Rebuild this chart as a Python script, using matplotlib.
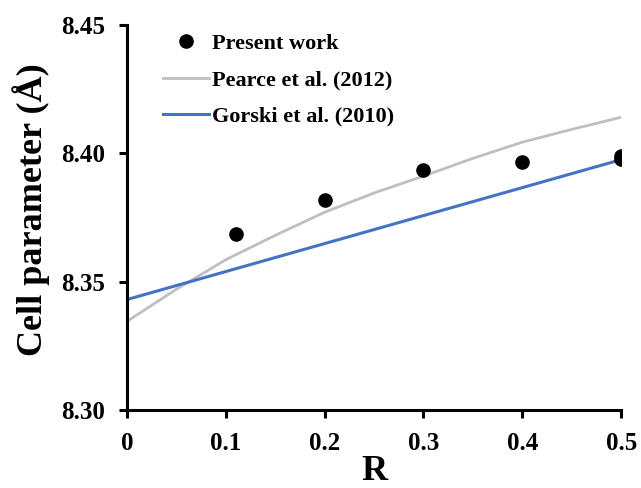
import matplotlib.pyplot as plt

# Data
r_present = [0.11, 0.2, 0.3, 0.4, 0.5, 0.5]
a_present = [8.3687, 8.3817, 8.3935, 8.3966, 8.3988, 8.3977]

r_pearce = [0.0, 0.05, 0.1, 0.15, 0.2, 0.25, 0.3, 0.35, 0.4, 0.45, 0.5]
a_pearce = [8.3345, 8.3470, 8.3585, 8.3680, 8.3770, 8.3845, 8.3911, 8.3980, 8.4043, 8.4093, 8.4140]

r_gorski = [0.0, 0.5]
a_gorski = [8.3430, 8.3975]

xticks = [0, 0.1, 0.2, 0.3, 0.4, 0.5]
xticklabels = ['0', '0.1', '0.2', '0.3', '0.4', '0.5']
yticks = [8.30, 8.35, 8.40, 8.45]
yticklabels = ['8.30', '8.35', '8.40', '8.45']

plt.rcParams['font.family'] = ['Liberation Serif', 'DejaVu Serif']
plt.rcParams['font.weight'] = 'bold'

fig = plt.figure(figsize=(6.41, 4.88), dpi=100)
ax = fig.add_axes([0.198, 0.160, 0.771, 0.789])

ax.plot(r_present, a_present, 'o', color='black', markersize=9.5, label='Present work', zorder=3)
ax.plot(r_pearce, a_pearce, '-', color='#bfbfbf', linewidth=2, label='Pearce et al. (2012)')
ax.plot(r_gorski, a_gorski, '-', color='#4472c4', linewidth=2.2, label='Gorski et al. (2010)')

ax.set_xlim(0, 0.5)
ax.set_ylim(8.30, 8.45)
ax.set_xticks(xticks)
ax.set_xticklabels(xticklabels, fontsize=18, fontweight='bold')
ax.set_yticks(yticks)
ax.set_yticklabels(yticklabels, fontsize=18, fontweight='bold')
ax.tick_params(direction='out', length=6, width=2.2)
ax.tick_params(axis='x', pad=10)
ax.tick_params(axis='y', pad=10)

for side in ['top', 'right']:
    ax.spines[side].set_visible(False)
for side in ['left', 'bottom']:
    ax.spines[side].set_linewidth(2.2)

ax.set_xlabel('R', fontsize=26, fontweight='bold', labelpad=0)
ax.set_ylabel('Cell parameter (Å)', fontsize=26, fontweight='bold')
ax.yaxis.set_label_coords(-0.155, 0.52)

ax.legend(loc='upper left', bbox_to_anchor=(0.254, 0.932), bbox_transform=fig.transFigure,
          frameon=False, borderpad=0, borderaxespad=0,
          prop={'family': 'Liberation Serif', 'weight': 'bold', 'size': 16},
          handlelength=2.1, handletextpad=0.1, labelspacing=0.72)

fig.savefig('out.png', dpi=100)
